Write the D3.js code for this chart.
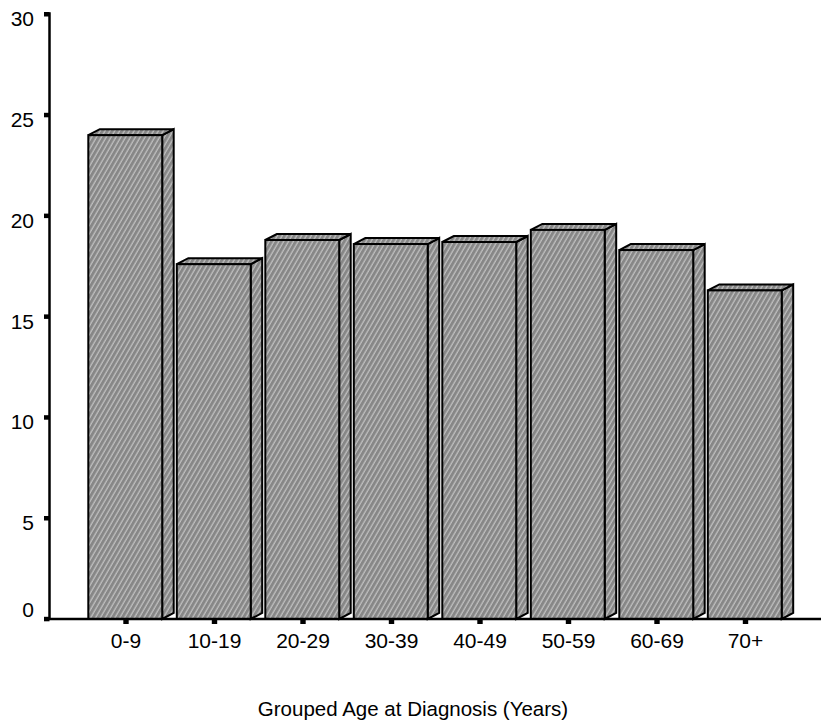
<!DOCTYPE html>
<html>
<head>
<meta charset="utf-8">
<script src="https://cdn.jsdelivr.net/npm/d3@7"></script>
<style>
  html, body { margin: 0; padding: 0; background: #fff; }
  svg { display: block; font-family: "Liberation Sans", Arial, sans-serif; }
</style>
</head>
<body>
<svg id="chart" width="821" height="727"></svg>
<script>
// Age groups and their values
const categories = ["0-9", "10-19", "20-29", "30-39", "40-49", "50-59", "60-69", "70+"];
const values = [24.0, 17.6, 18.8, 18.6, 18.7, 19.3, 18.3, 16.3];
const yTicks = [0, 5, 10, 15, 20, 25, 30];
const xTitle = "Grouped Age at Diagnosis (Years)";

const svg = d3.select("#chart");

const axisX = 49.5;   // y axis position
const depthX = 11.5;  // 3D extrusion
const depthY = 6;

const y = d3.scaleLinear().domain([0, 30]).range([619, 14.2]);
const x = d3.scaleBand()
  .domain(categories)
  .range([81.0, 789.0])
  .paddingInner(0.165)
  .paddingOuter(0.0825);

// hatch fill
const defs = svg.append("defs");
const pat = defs.append("pattern")
  .attr("id", "hatch")
  .attr("patternUnits", "userSpaceOnUse")
  .attr("width", 4.2)
  .attr("height", 8)
  .attr("patternTransform", "rotate(30)");
pat.append("rect").attr("width", 4.2).attr("height", 8).attr("fill", "#878787");
pat.append("line")
  .attr("x1", 1).attr("x2", 1).attr("y1", 0).attr("y2", 8)
  .attr("stroke", "#c4c4c4").attr("stroke-width", 1.2);

// bars
const bars = svg.append("g").attr("class", "bars");
const bw = x.bandwidth();
categories.forEach((c, i) => {
  const x0 = x(c), x1 = x0 + bw;
  const yt = y(values[i]), yb = y(0);
  const g = bars.append("g");
  const style = sel => sel.attr("fill", "url(#hatch)")
    .attr("stroke", "#000").attr("stroke-width", 2).attr("stroke-linejoin", "miter");
  // side face
  g.append("path").call(style)
    .attr("d", `M${x1},${yt} L${x1 + depthX},${yt - depthY} L${x1 + depthX},${yb - depthY} L${x1},${yb} Z`);
  // top face
  g.append("path").call(style)
    .attr("d", `M${x0},${yt} L${x0 + depthX},${yt - depthY} L${x1 + depthX},${yt - depthY} L${x1},${yt} Z`);
  // front face
  g.append("rect").call(style)
    .attr("x", x0).attr("y", yt).attr("width", bw).attr("height", yb - yt);
});

// axes
const axes = svg.append("g");
axes.append("line")
  .attr("x1", axisX).attr("x2", axisX)
  .attr("y1", y(30) - 2).attr("y2", y(0) + 1)
  .attr("stroke", "#000").attr("stroke-width", 2.5);
axes.append("line")
  .attr("x1", 44).attr("x2", 821)
  .attr("y1", y(0)).attr("y2", y(0))
  .attr("stroke", "#000").attr("stroke-width", 2.5);

// y ticks and labels
yTicks.forEach(v => {
  axes.append("rect")
    .attr("x", axisX - 5.5).attr("y", y(v) - 2.2)
    .attr("width", 5.5).attr("height", 4.5).attr("fill", "#000");
  axes.append("text")
    .attr("x", 34)
    .attr("y", v === 0 ? y(v) - 10 : y(v) + 4.5)
    .attr("dy", "0.36em")
    .attr("text-anchor", "end")
    .attr("font-size", 21)
    .attr("fill", "#000")
    .text(v);
});

// x ticks and labels
const xc = c => x(c) + bw / 2 + 0.75;
categories.forEach(c => {
  axes.append("rect")
    .attr("x", xc(c) - 2.7).attr("y", y(0))
    .attr("width", 5.4).attr("height", 5).attr("fill", "#000");
  axes.append("text")
    .attr("x", xc(c)).attr("y", 648)
    .attr("text-anchor", "middle")
    .attr("font-size", 21)
    .attr("fill", "#000")
    .text(c);
});

// axis title
svg.append("text")
  .attr("x", 413).attr("y", 716)
  .attr("text-anchor", "middle")
  .attr("font-size", 20.5)
  .attr("fill", "#000")
  .text(xTitle);
</script>
</body>
</html>
